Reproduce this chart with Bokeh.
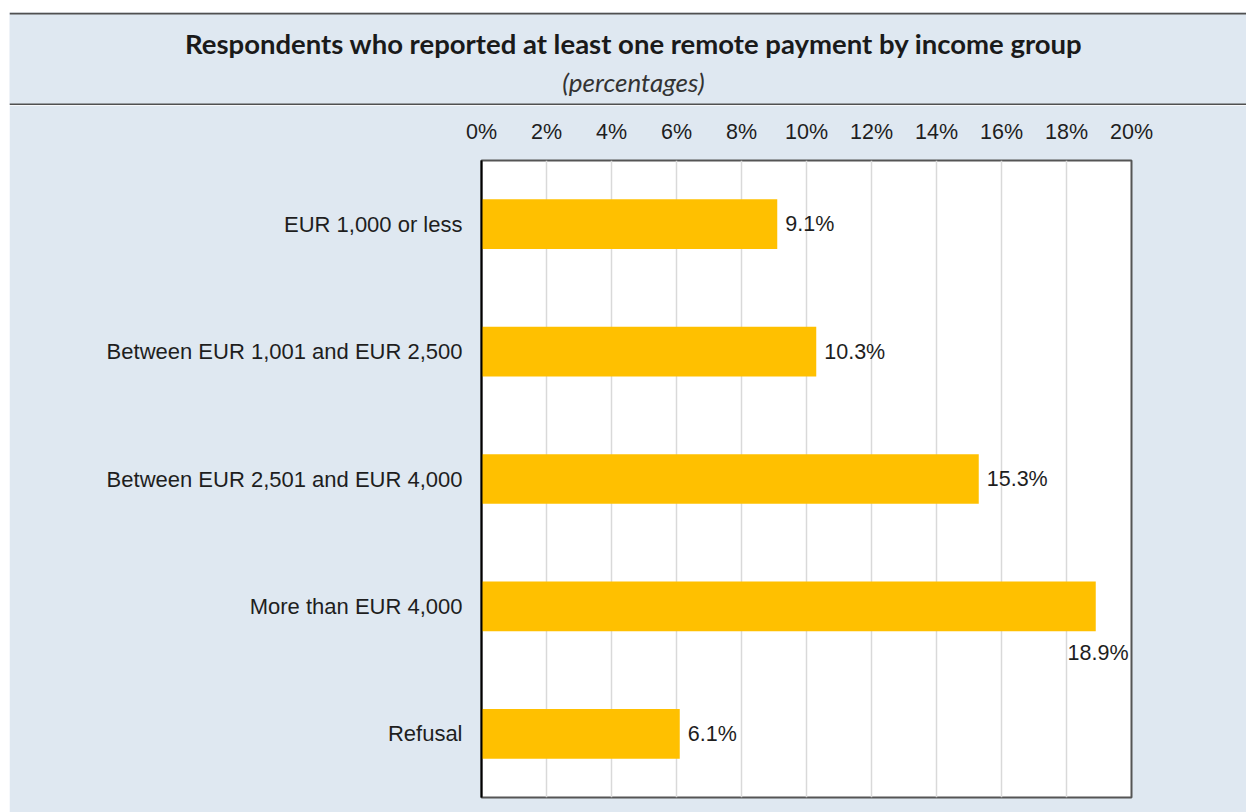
from bokeh.plotting import figure
from bokeh.layouts import column, row
from bokeh.models import ColumnDataSource, FixedTicker, Range1d, FactorRange, Spacer
from bokeh.embed import file_html
from bokeh.resources import INLINE
from bokeh.core.properties import value

# ---- data ----
categories = ["EUR 1,000 or less", "Between EUR 1,001 and EUR 2,500",
              "Between EUR 2,501 and EUR 4,000", "More than EUR 4,000", "Refusal"]
values = [9.1, 10.3, 15.3, 18.9, 6.1]
x_ticks = [0, 2, 4, 6, 8, 10, 12, 14, 16, 18, 20]
x_tick_labels = ["0%", "2%", "4%", "6%", "8%", "10%", "12%", "14%", "16%", "18%", "20%"]
title_text = "Respondents who reported at least one remote payment by income group"
subtitle_text = "(percentages)"

# ---- layout constants ----
PAGE_W = 1246
TOP_GAP = 12          # white strip above the box
LEFT_GAP = 9          # white strip left of the box
BOX_W = PAGE_W - LEFT_GAP
HEAD_H = 93
MAIN_H = 812 - TOP_GAP - HEAD_H
BG = "#dfe8f1"
RULE = "#505050"
BAR = "#FFC000"
TXT = "#1e1e1e"
XMAX = 20

# ---------- header (title block) ----------
h = figure(width=BOX_W, height=HEAD_H, output_backend="svg", toolbar_location=None,
           x_range=Range1d(0, BOX_W), y_range=Range1d(HEAD_H, 0),
           x_axis_type=None, y_axis_type=None,
           min_border_left=0, min_border_right=0, min_border_top=0, min_border_bottom=0)
h.background_fill_color = BG
h.border_fill_color = BG
h.outline_line_color = None
h.grid.grid_line_color = None
h.quad(left=[0, 0], right=[BOX_W, BOX_W], top=[0, HEAD_H - 2], bottom=[2, HEAD_H],
       fill_color=RULE, line_color=None)
h.text(x=[624.5], y=[31], text=[title_text], text_align="center", text_baseline="middle",
       text_font=value("Lato"), text_font_style="bold", text_font_size="27.5px", text_color="#1a1a1a")
h.text(x=[624], y=[69], text=[subtitle_text], text_align="center", text_baseline="middle",
       text_font=value("Lato"), text_font_style="italic", text_font_size="26px", text_color="#333333")

# ---------- main chart ----------
FL, FR, FT, FB = 472, 115, 55, 15
p = figure(width=BOX_W, height=MAIN_H, output_backend="svg", toolbar_location=None,
           y_range=FactorRange(*reversed(categories)), x_range=Range1d(0, XMAX),
           x_axis_location="above",
           min_border_left=FL, min_border_right=FR, min_border_top=FT, min_border_bottom=FB)
p.border_fill_color = BG
p.background_fill_color = "white"
p.outline_line_color = "#555555"
p.outline_line_width = 2

src = ColumnDataSource(dict(cat=categories, val=values))
p.hbar(y="cat", right="val", left=0, height=0.39, source=src, fill_color=BAR, line_color=None)

lab_x, lab_align, lab_xo, lab_yo = [], [], [], []
for v in values:
    if v > XMAX - 2:               # no room on the right -> below the bar, inside the frame
        lab_x.append(XMAX); lab_align.append("right"); lab_xo.append(-3); lab_yo.append(47)
    else:
        lab_x.append(v); lab_align.append("left"); lab_xo.append(8); lab_yo.append(0)
lsrc = ColumnDataSource(dict(x=lab_x, y=categories, t=[f"{v:.1f}%" for v in values],
                             al=lab_align, xo=lab_xo, yo=lab_yo))
p.text(x="x", y="y", text="t", source=lsrc, text_align="al", x_offset="xo", y_offset="yo",
       text_baseline="middle", text_font=value("Liberation Sans"), text_font_size="21.5px",
       text_color=TXT)

xa = p.xaxis[0]
xa.ticker = FixedTicker(ticks=x_ticks)
xa.major_label_overrides = {t: l for t, l in zip(x_ticks, x_tick_labels)}
xa.axis_line_color = None
xa.major_tick_line_color = None
xa.minor_tick_line_color = None
xa.major_label_standoff = 11
xa.major_label_text_font = "Liberation Sans"
xa.major_label_text_font_size = "21.5px"
xa.major_label_text_color = TXT

ya = p.yaxis[0]
ya.axis_line_color = "#000000"
ya.axis_line_width = 2
ya.major_tick_line_color = None
ya.minor_tick_line_color = None
ya.major_label_standoff = 13
ya.major_label_text_font = "Liberation Sans"
ya.major_label_text_font_size = "22px"
ya.major_label_text_color = TXT

p.xgrid.grid_line_color = "#d9d9d9"
p.xgrid.grid_line_width = 1.5
p.ygrid.grid_line_color = None

layout = column(
    Spacer(width=PAGE_W, height=TOP_GAP),
    row(Spacer(width=LEFT_GAP, height=HEAD_H), h),
    row(Spacer(width=LEFT_GAP, height=MAIN_H), p),
)

open("out.html", "w").write(file_html(layout, INLINE))
